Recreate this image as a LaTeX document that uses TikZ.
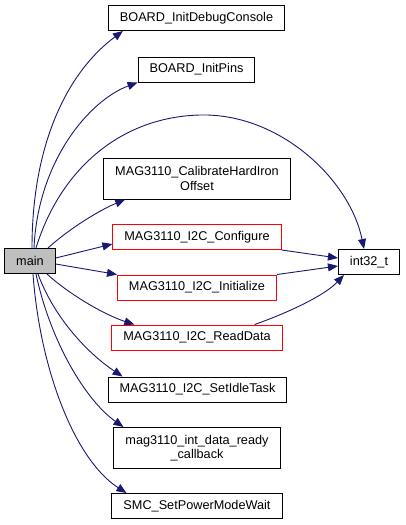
\documentclass[tikz,border=0pt]{standalone}
\usepackage{fontspec}
\setmainfont{Liberation Sans}
\usetikzlibrary{arrows.meta}
\definecolor{edgeblue}{HTML}{191970}
\definecolor{maingrey}{HTML}{BFBFBF}
\begin{document}
\begin{tikzpicture}[x=1pt, y=-1pt,
  fn/.style={draw=black, line width=1pt, fill=white, inner xsep=11.5pt, inner ysep=0pt,
    minimum height=25pt, align=center, font=\fontsize{12.7}{14.3}\selectfont},
  fnred/.style={fn, draw=red},
  fntwo/.style={fn, minimum height=41pt},
  call/.style={draw=edgeblue, line width=0.9pt, -{Triangle[length=10pt,width=8pt]}}]
  \useasboundingbox (0,0) rectangle (405,525);
  % functions
  \node[fn, fill=maingrey] (main) at (30,261) {main};
  \node[fn] (dbg) at (196.5,18) {BOARD\_InitDebugConsole};
  \node[fn] (pins) at (196.5,69.5) {BOARD\_InitPins};
  \node[fntwo] (calib) at (197,178.5) {MAG3110\_CalibrateHardIron\\Offset};
  \node[fnred] (conf) at (197,237) {MAG3110\_I2C\_Configure};
  \node[fnred] (init) at (197,287.5) {MAG3110\_I2C\_Initialize};
  \node[fnred] (read) at (197,337.5) {MAG3110\_I2C\_ReadData};
  \node[fn] (int) at (369,262) {int32\_t};
  \node[fn] (idle) at (197.5,389.5) {MAG3110\_I2C\_SetIdleTask};
  \node[fntwo] (ready) at (197,448) {mag3110\_int\_data\_ready\\\_callback};
  \node[fn] (smc) at (197,506) {SMC\_SetPowerModeWait};
  % calls from main
  \draw[call] ([xshift=2pt]main.north) .. controls (32,140) and (70,70) .. ([xshift=15pt]dbg.south west);
  \draw[call] ([xshift=4pt]main.north) .. controls (38,160) and (90,100) .. (pins.south west);
  \draw[call] ([xshift=6pt]main.north) .. controls (60,170) and (120,117) .. (200,115)
    .. controls (280,113) and (350,180) .. ([xshift=-5pt]int.north);
  \draw[call] ([xshift=18pt]main.north) .. controls (70,228) and (100,210) .. ([xshift=22pt]calib.south west);
  \draw[call] ([yshift=3pt]main.east) -- ([yshift=-7pt]conf.west);
  \draw[call] ([yshift=-3pt]main.east) -- (init.north west);
  \draw[call] ([xshift=17pt]main.south) .. controls (70,295) and (105,315) .. ([xshift=23pt]read.north west);
  \draw[call] ([xshift=8pt]main.south) .. controls (55,320) and (90,355) .. ([xshift=15pt]idle.north west);
  \draw[call] ([xshift=6pt]main.south) .. controls (50,340) and (85,400) .. ([xshift=10pt]ready.north west);
  \draw[call] ([xshift=3pt]main.south) .. controls (40,370) and (75,460) .. ([xshift=15pt]smc.north west);
  % calls to int32_t
  \draw[call] (conf.south east) -- ([yshift=4pt]int.west);
  \draw[call] (init.north east) -- ([yshift=-4pt]int.west);
  \draw[call] ([xshift=-28pt]read.north east) .. controls (290,312) and (325,295) .. ([xshift=6pt]int.south west);
\end{tikzpicture}
\end{document}
